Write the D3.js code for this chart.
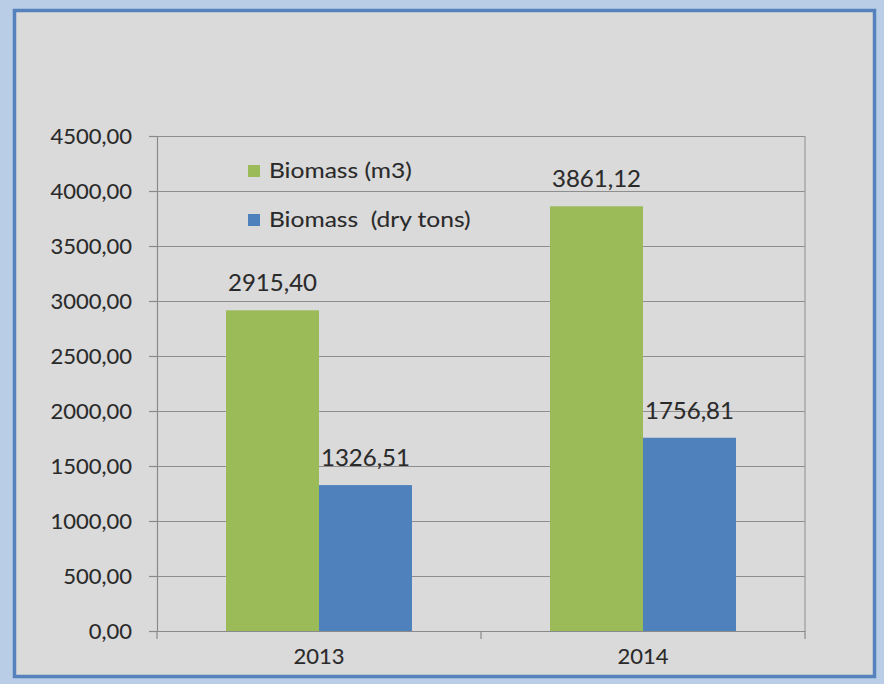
<!DOCTYPE html>
<html>
<head>
<meta charset="utf-8">
<script src="https://cdn.jsdelivr.net/npm/d3@7"></script>
<style>
  html, body { margin: 0; padding: 0; background: #b9cde6; }
  svg { display: block; }
  text { font-family: Lato, "Open Sans", sans-serif; fill: #2a2a2a; stroke: #2a2a2a; stroke-width: 0.1px; }
</style>
</head>
<body>
<svg id="chart" width="884" height="684"></svg>
<script>
// ---- data ----
const categories = ["2013", "2014"];
const seriesNames = ["Biomass (m3)", "Biomass  (dry tons)"];
const biomassM3 = [2915.40, 3861.12];
const biomassDryTons = [1326.51, 1756.81];
const yTickValues = [0, 500, 1000, 1500, 2000, 2500, 3000, 3500, 4000, 4500];
const seriesColors = ["#9bbb59", "#4f81bd"];

const fmt = d => d.toFixed(2).replace(".", ",");

const svg = d3.select("#chart");
const W = 884, H = 684;

// outer background + frame
svg.append("rect").attr("x", 0).attr("y", 0).attr("width", W).attr("height", H).attr("fill", "#b9cde6");
svg.append("rect").attr("x", 14.5).attr("y", 10.5).attr("width", 860).attr("height", 666)
  .attr("fill", "#dadada").attr("stroke", "#5582bd").attr("stroke-width", 3.5);

const plot = { left: 157, right: 805, top: 136, bottom: 631 };

const y = d3.scaleLinear().domain([0, 4500]).range([plot.bottom, plot.top]);
const x0 = d3.scaleBand().domain(categories).range([plot.left, plot.right])
  .paddingInner(0.426).paddingOuter(0.213);
const x1 = d3.scaleBand().domain(seriesNames).range([0, x0.bandwidth()]).padding(0);

// gridlines
const grid = svg.append("g").attr("transform", `translate(${plot.left},0)`)
  .call(d3.axisLeft(y).tickValues(yTickValues).tickSize(-(plot.right - plot.left)).tickFormat(""));
grid.select(".domain").remove();
grid.selectAll("line").attr("stroke", "#8e8e8e").attr("stroke-width", 1.2);

// right border of plot area
svg.append("line").attr("x1", plot.right).attr("x2", plot.right)
  .attr("y1", y(4500)).attr("y2", y(0)).attr("stroke", "#9a9a9a").attr("stroke-width", 1.2);

// bars
const table = categories.map((c, i) => ({ cat: c, values: [biomassM3[i], biomassDryTons[i]] }));
const groups = svg.append("g").selectAll("g").data(table).join("g")
  .attr("transform", d => `translate(${x0(d.cat)},0)`);
groups.selectAll("rect").data(d => d.values.map((v, j) => ({ name: seriesNames[j], v, j })))
  .join("rect")
  .attr("x", d => x1(d.name))
  .attr("y", d => y(d.v))
  .attr("width", x1.bandwidth())
  .attr("height", d => y(0) - y(d.v))
  .attr("fill", d => seriesColors[d.j]);
groups.selectAll("text.lbl").data(d => d.values.map((v, j) => ({ name: seriesNames[j], v, j })))
  .join("text").attr("class", "lbl")
  .attr("x", d => x1(d.name) + x1.bandwidth() / 2)
  .attr("y", d => y(d.v) - 19)
  .attr("text-anchor", "middle")
  .attr("font-size", 24)
  .text(d => fmt(d.v));

// y axis
const yAxis = svg.append("g").attr("transform", `translate(${plot.left},0)`)
  .call(d3.axisLeft(y).tickValues(yTickValues).tickSize(8).tickPadding(17).tickFormat(fmt));
yAxis.select(".domain").attr("stroke", "#8a8a8a").attr("stroke-width", 1.2);
yAxis.selectAll(".tick line").attr("stroke", "#8a8a8a").attr("stroke-width", 1.2);
yAxis.selectAll(".tick text").attr("font-size", 22).attr("font-family", "Lato, sans-serif").attr("fill", "#2a2a2a");

// x axis
const xAxis = svg.append("g").attr("transform", `translate(0,${plot.bottom})`)
  .call(d3.axisBottom(x0).tickSize(0).tickPadding(17));
xAxis.select(".domain").attr("stroke", "#8a8a8a").attr("stroke-width", 1.2);
xAxis.selectAll(".tick text").attr("font-size", 22).attr("font-family", "Lato, sans-serif").attr("fill", "#2a2a2a");
// x tick marks at category boundaries
const half = x0.step() * x0.paddingInner() / 2;
const bounds = [x0(categories[0]) - half].concat(categories.map(c => x0(c) + x0.bandwidth() + half));
svg.append("g").selectAll("line").data(bounds).join("line")
  .attr("x1", d => d).attr("x2", d => d)
  .attr("y1", plot.bottom).attr("y2", plot.bottom + 8)
  .attr("stroke", "#8a8a8a").attr("stroke-width", 1.2);

// legend
const legend = svg.append("g").attr("transform", "translate(248,0)");
const legendY = [171, 220];
seriesNames.forEach((n, i) => {
  legend.append("rect").attr("x", 0).attr("y", legendY[i] - 6).attr("width", 12).attr("height", 12)
    .attr("fill", seriesColors[i]);
  legend.append("text")
    .attr("transform", `translate(21,${legendY[i]}) scale(1.17,1)`)
    .attr("dy", "0.35em")
    .attr("font-size", 21).attr("xml:space", "preserve").style("white-space", "pre").text(n);
});
</script>
</body>
</html>
